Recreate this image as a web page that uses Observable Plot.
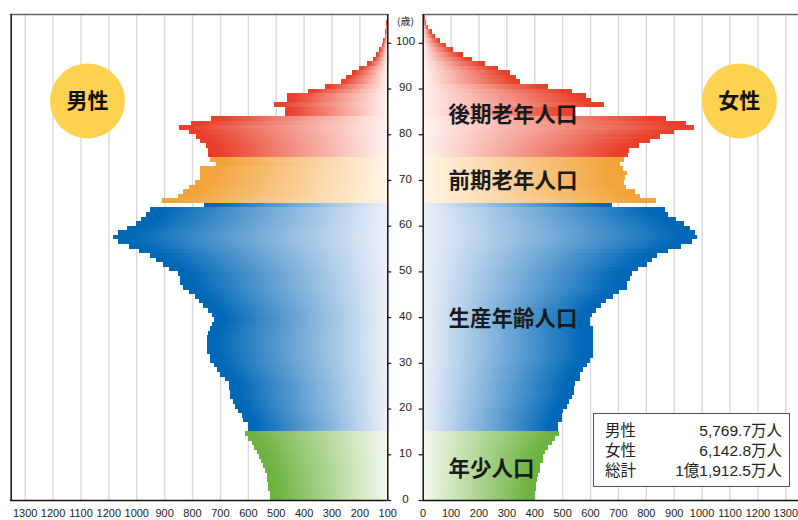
<!DOCTYPE html>
<html><head><meta charset="utf-8">
<script src="https://cdn.jsdelivr.net/npm/d3@7"></script>
<script src="https://cdn.jsdelivr.net/npm/@observablehq/plot@0.6"></script>
<style>
body{margin:0;background:#fff;}
#wrap{position:relative;width:798px;height:520px;overflow:hidden;}
#legend{position:absolute;left:593px;top:413px;width:197px;height:74px;box-sizing:border-box;border:1px solid #555;background:#fff;
  font-family:"Liberation Sans","Noto Sans CJK JP",sans-serif;font-size:15.5px;color:#222;padding:7px 7px 0 11px;}
#legend .row{display:flex;justify-content:space-between;height:20px;line-height:20px;}
</style></head><body><div id="wrap"></div>
<script>
// ---- data (index = age, thousands of persons) ----
const maleValues = [
 420,420,426,426,432,432,438,444,453,459,
 468,478,486,498,510,498,498,516,522,537,
 546,552,564,564,566,566,582,600,612,623,
 635,635,647,647,647,647,644,635,627,621,
 629,641,659,675,689,710,731,743,743,749,
 782,803,829,851,889,925,966,982,964,932,
 901,884,866,851,657,806,750,731,712,689,
 671,672,671,614,635,641,641,650,671,686,
 710,747,703,631,367,367,406,358,358,283,
 222,167,148,125,100,72,51,40,29,20,
 14,10,7,5,3,2];
const femaleValues = [
 402,402,406,406,411,414,420,420,430,430,
 438,450,462,474,490,486,486,498,498,504,
 516,526,537,543,543,546,564,564,576,588,
 600,609,609,612,612,612,612,609,600,600,
 606,621,641,659,683,705,731,731,743,749,
 773,803,821,841,880,925,964,982,975,960,
 937,908,880,868,680,837,779,761,729,723,
 725,731,719,707,722,737,740,776,815,851,
 901,973,945,873,540,540,650,602,585,534,
 450,350,335,313,271,223,176,143,110,84,
 62,44,32,20,12,8];
const groupNames = ["年少人口","生産年齢人口","前期老年人口","後期老年人口"];
const groupStartAge = [0,15,65,75];
const groupColors = ["#6DB33F","#0068B7","#F2A33A","#E8402A"];
const groupPale   = ["#F4F9EE","#EEF1FA","#FFF6E8","#FFF3F0"];
const ageTicks = [0,10,20,30,40,50,60,70,80,90,100];
const leftTickValues = [1300,1200,1100,1000,900,800,700,600,500,400,300,200,100,0];
const leftTickLabels = ["1300","1200","1100","1200","1000","900","800","700","600","500","400","300","200","100"];
const rightTickValues = [0,100,200,300,400,500,600,700,800,900,1000,1100,1200,1300];
const rightTickLabels = ["0","100","200","300","400","500","600","700","800","900","1000","1100","1200","1300"];
const gridValues = [100,200,300,400,500,600,700,800,900,1000,1100,1200,1300];
const sexLabels = ["男性","女性"];
const legendLabels = ["男性","女性","総計"];
const legendValues = ["5,769.7万人","6,142.8万人","1億1,912.5万人"];

// ---- layout ----
const G = 63.4;              // half gap between panels (in value units)
const X_DOMAIN = [-1416, 1409];
const Y_TOP = 106.3;
const FONT_NUM = "Liberation Sans, Noto Sans CJK JP, sans-serif";
const FONT_JP = "Noto Sans CJK JP, sans-serif";

const groupOf = age => { let g = 0; groupStartAge.forEach((s,i)=>{ if (age >= s) g = i; }); return g; };
const male = maleValues.map((v,i)=>({age:i, value:v, group:groupOf(i)}));
const female = femaleValues.map((v,i)=>({age:i, value:v, group:groupOf(i)}));

const marks = [];
marks.push(Plot.ruleX(gridValues, {x: v => -G - v, y1: () => 0, y2: () => Y_TOP, stroke: "#d9d9d9", strokeWidth: 1.4}));
marks.push(Plot.ruleX(gridValues, {x: v => G + v, y1: () => 0, y2: () => Y_TOP, stroke: "#d9d9d9", strokeWidth: 1.4}));
groupNames.forEach((g, gi) => {
  marks.push(Plot.rect(male.filter(d => d.group === gi), {
    x1: () => -G, x2: d => -G - d.value, y1: d => d.age, y2: d => d.age + 1,
    fill: `url(#gm${gi})`, shapeRendering: "crispEdges"}));
  marks.push(Plot.rect(female.filter(d => d.group === gi), {
    x1: () => G, x2: d => G + d.value, y1: d => d.age, y2: d => d.age + 1,
    fill: `url(#gf${gi})`, shapeRendering: "crispEdges"}));
});
// frame
marks.push(Plot.ruleY([Y_TOP], {x1: () => X_DOMAIN[0], x2: () => -G, stroke: "#666", strokeWidth: 1.6}));
marks.push(Plot.ruleY([Y_TOP], {x1: () => G, x2: () => X_DOMAIN[1], stroke: "#666", strokeWidth: 1.6}));
marks.push(Plot.ruleY([0], {x1: () => X_DOMAIN[0], x2: () => -G, stroke: "#111", strokeWidth: 1.5}));
marks.push(Plot.ruleY([0], {x1: () => G, x2: () => X_DOMAIN[1], stroke: "#111", strokeWidth: 1.5}));
marks.push(Plot.ruleX([X_DOMAIN[0] + 2.5], {y1: () => 0, y2: () => Y_TOP, stroke: "#111", strokeWidth: 1.5}));
marks.push(Plot.ruleX([-G, G], {y1: () => 0, y2: () => Y_TOP, stroke: "#111", strokeWidth: 1.5}));
// age ticks & labels
marks.push(Plot.ruleY(ageTicks, {y: d => d, x1: () => -G, x2: () => -G + 14, stroke: "#111", strokeWidth: 1.2}));
marks.push(Plot.ruleY(ageTicks, {y: d => d, x1: () => G - 14, x2: () => G, stroke: "#111", strokeWidth: 1.2}));
marks.push(Plot.text(ageTicks, {x: () => 0, y: d => d, text: d => String(d), dy: -1.5, fontSize: 11.5, fill: "#222", fontFamily: FONT_NUM, letterSpacing: "-0.6px"}));
marks.push(Plot.text(["(歳)"], {x: () => 0, y: () => 104.8, text: d => d, fontSize: 10, fill: "#222", fontFamily: FONT_JP}));
// x tick labels
marks.push(Plot.text(leftTickLabels, {x: (d, i) => -G - leftTickValues[i], y: () => 0, text: d => d, dy: 13, fontSize: 11, fill: "#222", fontFamily: FONT_NUM, letterSpacing: "-1px"}));
marks.push(Plot.text(rightTickLabels, {x: (d, i) => G + rightTickValues[i], y: () => 0, text: d => d, dy: 13, fontSize: 11, fill: "#222", fontFamily: FONT_NUM, letterSpacing: "-1px"}));
// sex badges
const badge = [{x: -1140, y: 87.4, t: sexLabels[0]}, {x: 1197, y: 87.4, t: sexLabels[1]}];
marks.push(Plot.dot(badge, {x: "x", y: "y", r: 37.5, fill: "#FDD24E", stroke: "none"}));
marks.push(Plot.text(badge, {x: "x", y: "y", text: "t", fontSize: 21, fontWeight: 700, fill: "#111", fontFamily: FONT_JP}));
// group annotations
const annY = [6.8, 39.6, 69.8, 84.2];
marks.push(Plot.text(groupNames, {x: () => 154, y: (d, i) => annY[i], text: d => d, textAnchor: "start", fontSize: 21.5, fontWeight: 700, fill: "#1a1a1a", fontFamily: FONT_JP}));

const svg = Plot.plot({
  width: 798, height: 520, margin: 0,
  x: {domain: X_DOMAIN, range: [10, 798], axis: null},
  y: {domain: [0, Y_TOP], range: [500, 14], axis: null},
  style: {background: "#fff", overflow: "visible"},
  marks
});
const defs = d3.select(svg).insert("defs", ":first-child");
groupColors.forEach((c, i) => {
  const gm = defs.append("linearGradient").attr("id", `gm${i}`).attr("x1", 0).attr("x2", 1).attr("y1", 0).attr("y2", 0);
  gm.append("stop").attr("offset", 0).attr("stop-color", c);
  gm.append("stop").attr("offset", 0.06).attr("stop-color", c);
  gm.append("stop").attr("offset", 1).attr("stop-color", groupPale[i]);
  const gf = defs.append("linearGradient").attr("id", `gf${i}`).attr("x1", 0).attr("x2", 1).attr("y1", 0).attr("y2", 0);
  gf.append("stop").attr("offset", 0).attr("stop-color", groupPale[i]);
  gf.append("stop").attr("offset", 0.94).attr("stop-color", c);
  gf.append("stop").attr("offset", 1).attr("stop-color", c);
});
const wrap = document.getElementById("wrap");
wrap.appendChild(svg);
const legend = document.createElement("div");
legend.id = "legend";
legend.innerHTML = legendLabels.map((l, i) => `<div class="row"><span>${l}</span><span>${legendValues[i]}</span></div>`).join("");
wrap.appendChild(legend);
</script>
</body></html>
